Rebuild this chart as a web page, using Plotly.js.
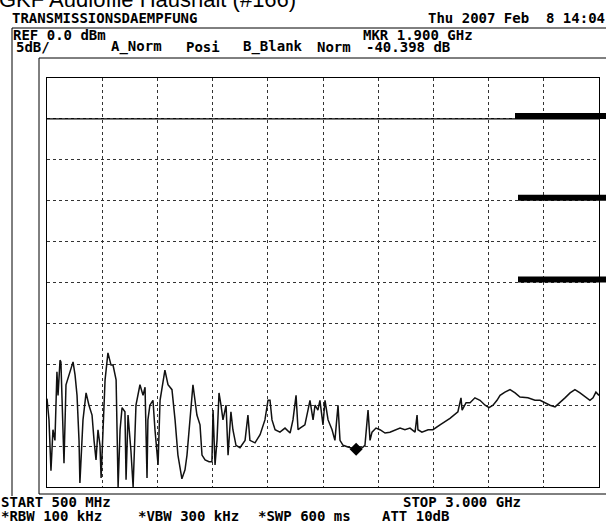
<!DOCTYPE html>
<html>
<head>
<meta charset="utf-8">
<script src="https://cdn.plot.ly/plotly-3.0.1.min.js"></script>
<style>html,body{margin:0;padding:0;background:#fff;}#chart{width:606px;height:525px;}</style>
</head>
<body>
<div id="chart"></div>
<script>
// ---- data ----
const freqGHz = [0.500,0.509,0.518,0.527,0.536,0.545,0.550,0.559,0.563,0.568,0.577,0.586,0.595,0.609,0.618,0.627,0.636,0.645,0.649,0.663,0.677,0.690,0.704,0.713,0.722,0.731,0.740,0.745,0.754,0.763,0.776,0.790,0.799,0.813,0.822,0.831,0.840,0.853,0.858,0.867,0.880,0.890,0.903,0.921,0.935,0.944,0.953,0.957,0.966,0.980,0.989,1.003,1.012,1.025,1.034,1.048,1.066,1.080,1.093,1.111,1.125,1.134,1.148,1.161,1.179,1.193,1.202,1.216,1.234,1.247,1.252,1.261,1.270,1.279,1.288,1.297,1.311,1.320,1.333,1.342,1.356,1.374,1.397,1.410,1.419,1.442,1.465,1.478,1.487,1.501,1.510,1.519,1.533,1.555,1.578,1.601,1.614,1.628,1.637,1.646,1.668,1.682,1.691,1.705,1.714,1.727,1.736,1.750,1.759,1.773,1.791,1.804,1.818,1.827,1.841,1.863,1.900,1.927,1.940,1.954,1.963,1.972,1.990,2.008,2.031,2.053,2.076,2.099,2.121,2.144,2.167,2.176,2.180,2.198,2.226,2.248,2.280,2.325,2.361,2.375,2.380,2.398,2.416,2.438,2.461,2.484,2.502,2.520,2.538,2.552,2.574,2.597,2.620,2.642,2.678,2.710,2.733,2.755,2.778,2.801,2.823,2.846,2.869,2.891,2.914,2.937,2.959,2.973,2.986,3.000];
const levelDb = [-34.2,-36.8,-43.0,-38.0,-39.3,-30.9,-33.8,-29.5,-29.7,-34.4,-42.1,-32.5,-31.7,-30.7,-29.7,-31.3,-33.8,-39.3,-44.5,-36.8,-33.5,-35.0,-36.2,-39.3,-41.7,-38.0,-39.9,-43.9,-38.0,-31.9,-28.6,-30.1,-30.1,-31.9,-45.0,-38.0,-35.3,-35.8,-44.1,-36.2,-40.5,-45.0,-35.0,-32.5,-33.8,-32.8,-43.9,-36.8,-35.0,-34.4,-38.0,-42.3,-34.4,-31.9,-30.7,-32.5,-33.1,-36.8,-41.1,-44.0,-42.9,-41.1,-36.8,-32.5,-36.2,-37.4,-41.1,-41.7,-41.9,-41.9,-35.6,-42.3,-39.3,-33.5,-35.0,-36.8,-35.0,-41.1,-35.8,-38.0,-39.9,-40.2,-39.3,-36.2,-39.3,-39.6,-38.6,-37.4,-36.8,-34.4,-34.4,-36.8,-38.0,-38.3,-37.8,-38.4,-36.8,-33.8,-38.0,-37.8,-37.4,-35.6,-34.4,-36.8,-35.0,-35.6,-34.4,-37.4,-34.4,-36.8,-38.0,-39.3,-35.0,-39.3,-39.9,-40.1,-40.398,-40.2,-39.9,-35.6,-39.3,-38.3,-37.8,-38.0,-38.4,-38.3,-38.0,-37.8,-38.0,-37.8,-38.3,-36.2,-38.0,-38.3,-38.0,-38.0,-37.4,-36.6,-35.8,-34.1,-35.6,-34.7,-34.7,-34.1,-34.4,-35.0,-35.3,-35.0,-34.4,-33.8,-33.4,-33.1,-33.5,-34.0,-34.1,-34.4,-34.4,-34.7,-35.0,-35.2,-34.7,-34.1,-33.5,-33.1,-33.5,-34.0,-34.4,-34.1,-33.4,-33.8];
const markerFreq = [1.900];
const markerLevel = [-40.398];
const displayLines = [0, -10, -20];
const titleText = 'GKF Audiofile Haushalt (#166)';
const headerLeft = 'TRANSMISSIONSDAEMPFUNG';
const headerDate = 'Thu 2007 Feb\u00A0\u00A08 14:04';
const refText = 'REF 0.0 dBm';
const mkrFreqText = 'MKR 1.900 GHz';
const mkrLevelText = '-40.398 dB';
const scaleText = '5dB/';
const modeTexts = ['A_Norm', 'Posi', 'B_Blank', 'Norm'];
const startText = 'START 500 MHz';
const stopText = 'STOP 3.000 GHz';
const bwTexts = ['*RBW 100 kHz', '*VBW 300 kHz', '*SWP 600 ms', 'ATT 10dB'];

// ---- layout geometry (pixels) ----
const W = 606, H = 525;
const L = 47, R = 599, T = 78, B = 487;
const PW = R - L, PH = B - T;
const px = x => (x - L) / PW;
const py = y => (B - y) / PH;
const yDb = [-45, 5];
const dbToPaper = d => (d - yDb[0]) / (yDb[1] - yDb[0]);

const mono = {family: 'DejaVu Sans Mono', size: 14, color: '#000', weight: 'bold'};
function ann(text, x, y, anchor) {
  return {text: text, xref: 'paper', yref: 'paper', x: px(x), y: py(y),
    xanchor: anchor || 'left', yanchor: 'middle', showarrow: false, font: mono, borderpad: 0};
}
const annotations = [
  {text: titleText, xref: 'paper', yref: 'paper', x: px(-2), y: py(-1), xanchor: 'left', yanchor: 'middle',
   showarrow: false, borderpad: 0, font: {family: 'Liberation Sans', size: 22, color: '#000'}},
  ann(headerLeft, 11, 18),
  ann(headerDate, 606, 18, 'right'),
  ann(refText, 12, 35),
  ann(mkrFreqText, 362, 35),
  ann(scaleText, 15, 47),
  ann(modeTexts[0], 110, 47),
  ann(modeTexts[1], 185, 47),
  ann(modeTexts[2], 242, 47),
  ann(modeTexts[3], 316, 47),
  ann(mkrLevelText, 365, 47),
  ann(startText, 0, 502),
  ann(stopText, 402, 502),
  ann(bwTexts[0], 0, 516),
  ann(bwTexts[1], 137, 516),
  ann(bwTexts[2], 257, 516),
  ann(bwTexts[3], 381, 516)
];

const blk = {color: '#000', width: 1};
const shapes = [
  // outer frames
  {type: 'line', xref: 'paper', yref: 'paper', x0: px(12), x1: px(12), y0: py(28), y1: py(496), line: blk},
  {type: 'line', xref: 'paper', yref: 'paper', x0: px(12), x1: px(610), y0: py(28), y1: py(28), line: blk},
  {type: 'line', xref: 'paper', yref: 'paper', x0: px(39), x1: px(39), y0: py(58), y1: py(494), line: blk},
  {type: 'line', xref: 'paper', yref: 'paper', x0: px(39), x1: px(610), y0: py(58), y1: py(58), line: blk},
  {type: 'line', xref: 'paper', yref: 'paper', x0: px(39), x1: px(610), y0: py(494), y1: py(494), line: blk},
  // reference line at 0 dB
  {type: 'line', xref: 'paper', yref: 'paper', x0: 0, x1: 1, y0: dbToPaper(0), y1: dbToPaper(0), line: {color: '#000', width: 1.2}}
];
displayLines.forEach((d, i) => {
  shapes.push({type: 'rect', xref: 'paper', yref: 'paper', x0: px(i === 0 ? 515 : 518), x1: px(610),
    y0: dbToPaper(d), y1: dbToPaper(d) + 6 / PH, fillcolor: '#000', line: {width: 0}});
});

const traces = [
  {x: freqGHz, y: levelDb, type: 'scatter', mode: 'lines', line: {color: '#111', width: 1.5}, hoverinfo: 'skip'},
  {x: markerFreq, y: markerLevel, type: 'scatter', mode: 'markers',
   marker: {symbol: 'diamond', size: 10, color: '#000'}, hoverinfo: 'skip'}
];

const axisCommon = {showticklabels: false, ticks: '', showgrid: true, gridcolor: '#333', griddash: 'dot', gridwidth: 1,
  zeroline: false, showline: true, mirror: true, linecolor: '#000', linewidth: 1, fixedrange: true};

const layout = {
  width: W, height: H,
  margin: {l: L, r: W - R, t: T, b: H - B, pad: 0},
  paper_bgcolor: '#fff', plot_bgcolor: '#fff',
  showlegend: false,
  xaxis: Object.assign({}, axisCommon, {range: [0.5, 3.0], dtick: 0.25, tick0: 0.5}),
  yaxis: Object.assign({}, axisCommon, {range: yDb, dtick: 5, tick0: -45}),
  annotations: annotations,
  shapes: shapes
};

Plotly.newPlot('chart', traces, layout, {displayModeBar: false, staticPlot: true});
</script>
</body>
</html>
